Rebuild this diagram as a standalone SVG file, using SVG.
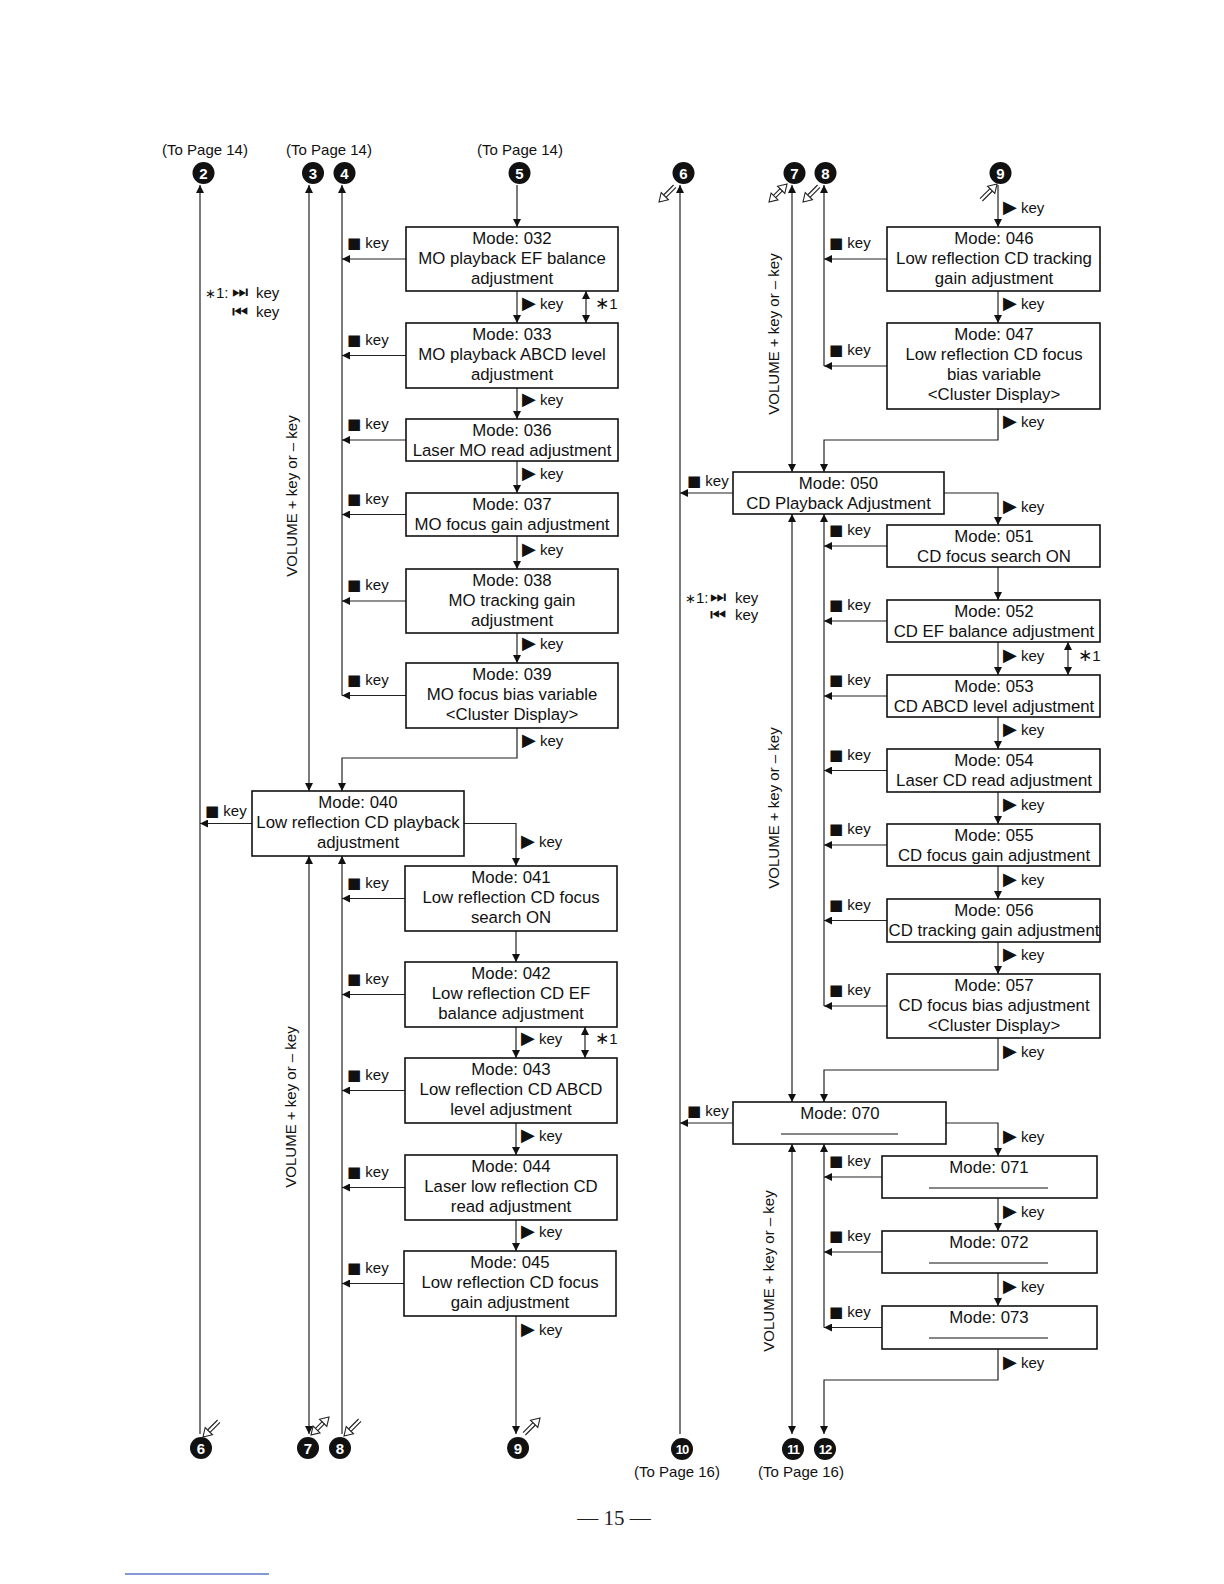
<svg xmlns="http://www.w3.org/2000/svg" width="1224" height="1584" viewBox="0 0 1224 1584">
<defs>
<style>
.bx{fill:#fff;stroke:#111;stroke-width:1.6}
.t{font-family:"Liberation Sans",Arial,sans-serif;font-size:16.8px;fill:#111;text-anchor:middle}
.k{font-family:"Liberation Sans",Arial,sans-serif;font-size:15px;fill:#111}
.sy{font-family:"DejaVu Sans",sans-serif}
.as{font-family:"DejaVu Sans",sans-serif;font-size:13px}
.tr{font-family:"DejaVu Sans",sans-serif;font-size:18px}
.md{font-family:"DejaVu Sans",sans-serif;font-size:18px}
.pg{font-family:"Liberation Sans",Arial,sans-serif;font-size:15px;fill:#111;text-anchor:middle}
.v{font-family:"Liberation Sans",Arial,sans-serif;font-size:15px;fill:#111;text-anchor:middle}
.c{fill:#111}
.cn{font-family:"Liberation Sans",Arial,sans-serif;font-weight:bold;font-size:15px;fill:#fff;text-anchor:middle}
.cn2{font-family:"Liberation Sans",Arial,sans-serif;font-weight:bold;font-size:13px;fill:#fff;text-anchor:middle;letter-spacing:-1px}
.ln{fill:none;stroke:#222;stroke-width:1.2}
.ul{stroke:#111;stroke-width:1.2}
.a{marker-end:url(#ah)}
.s{marker-start:url(#ah)}
.h{fill:#fff;stroke:#222;stroke-width:1.1}
.hs{fill:none;stroke:#222;stroke-width:1.1}
</style>
<marker id="ah" markerUnits="userSpaceOnUse" markerWidth="8" markerHeight="8" refX="8" refY="4" orient="auto-start-reverse">
<path d="M0,0 L8,4 L0,8 z" fill="#111"/>
</marker>
<g id="hdl">
<polygon class="h" points="0,0 9.5,-2.2 2.2,-9.5"/>
<path class="hs" d="M7,-4.6 L17,-14.6 M4.6,-7 L14.6,-17"/>
</g>
<g id="hdd">
<polygon class="h" points="0,0 9,-2.1 2.1,-9"/>
<polygon class="h" points="18,-18 8.5,-15.8 15.8,-8.5"/>
<path class="hs" d="M6.7,-4.4 L13.7,-11.4 M4.4,-6.7 L11.4,-13.7"/>
</g>
</defs>
<rect x="0" y="0" width="1224" height="1584" fill="#fff"/>

<g id="terminals">
<text class="pg" x="205" y="155">(To Page 14)</text>
<text class="pg" x="329" y="155">(To Page 14)</text>
<text class="pg" x="520" y="155">(To Page 14)</text>
<g id="t2top"><circle class="c" cx="203.5" cy="173" r="11"/><text class="cn" x="203.5" y="178.5">2</text></g>
<g id="t3top"><circle class="c" cx="313" cy="173" r="11"/><text class="cn" x="313" y="178.5">3</text></g>
<g id="t4top"><circle class="c" cx="344.5" cy="173" r="11"/><text class="cn" x="344.5" y="178.5">4</text></g>
<g id="t5top"><circle class="c" cx="519.5" cy="173" r="11"/><text class="cn" x="519.5" y="178.5">5</text></g>
<g id="t6top"><circle class="c" cx="683.5" cy="173" r="11"/><text class="cn" x="683.5" y="178.5">6</text></g>
<g id="t7top"><circle class="c" cx="794.5" cy="173" r="11"/><text class="cn" x="794.5" y="178.5">7</text></g>
<g id="t8top"><circle class="c" cx="825.5" cy="173" r="11"/><text class="cn" x="825.5" y="178.5">8</text></g>
<g id="t9top"><circle class="c" cx="1000.5" cy="173" r="11"/><text class="cn" x="1000.5" y="178.5">9</text></g>
<g id="t6bot"><circle class="c" cx="201" cy="1448" r="11"/><text class="cn" x="201" y="1453.5">6</text></g>
<g id="t7bot"><circle class="c" cx="308" cy="1448" r="11"/><text class="cn" x="308" y="1453.5">7</text></g>
<g id="t8bot"><circle class="c" cx="340" cy="1448" r="11"/><text class="cn" x="340" y="1453.5">8</text></g>
<g id="t9bot"><circle class="c" cx="518" cy="1448" r="11"/><text class="cn" x="518" y="1453.5">9</text></g>
<g id="t10"><circle class="c" cx="682" cy="1449" r="11"/><text class="cn2" x="682" y="1454">10</text></g>
<g id="t11"><circle class="c" cx="793" cy="1449" r="11"/><text class="cn2" x="793" y="1454">11</text></g>
<g id="t12"><circle class="c" cx="825" cy="1449" r="11"/><text class="cn2" x="825" y="1454">12</text></g>
<text class="pg" x="677" y="1477">(To Page 16)</text>
<text class="pg" x="801" y="1477">(To Page 16)</text>
<use href="#hdl" transform="translate(659,202)"/>
<use href="#hdd" transform="translate(769,202)"/>
<use href="#hdl" transform="translate(803,202)"/>
<use href="#hdl" transform="translate(997,184) rotate(180)"/>
<use href="#hdl" transform="translate(203,1437)"/>
<use href="#hdd" transform="translate(311,1435)"/>
<use href="#hdl" transform="translate(344,1436)"/>
<use href="#hdl" transform="translate(540,1418) rotate(180)"/>
</g>

<g id="connectors">
<path class="ln s" d="M200,185 V1434"/>
<path class="ln s a" d="M309,185 V791"/>
<path class="ln s a" d="M309,856 V1434"/>
<path class="ln s" d="M342,185 V695.5"/>
<path class="ln s" d="M342,856 V1434"/>
<path class="ln a" d="M517,185 V227"/>
<path class="ln a" d="M406,259 H342"/>
<path class="ln a" d="M406,355.5 H342"/>
<path class="ln a" d="M406,440 H342"/>
<path class="ln a" d="M406,514.5 H342"/>
<path class="ln a" d="M406,601 H342"/>
<path class="ln a" d="M406,695.5 H342"/>
<path class="ln a" d="M405,898.5 H342"/>
<path class="ln a" d="M405,994.5 H342"/>
<path class="ln a" d="M405,1090.5 H342"/>
<path class="ln a" d="M405,1187.5 H342"/>
<path class="ln a" d="M404,1283.5 H342"/>
<path class="ln a" d="M252,823.5 H200"/>
<path class="ln a" d="M517,291 V323"/>
<path class="ln a" d="M517,388 V419"/>
<path class="ln a" d="M517,461 V493"/>
<path class="ln a" d="M517,536 V569"/>
<path class="ln a" d="M517,633 V663"/>
<path class="ln a" d="M517,728 V758 H342 V791"/>
<path class="ln a" d="M464,823.5 H516 V866"/>
<path class="ln a" d="M516,931 V962"/>
<path class="ln a" d="M516,1027 V1058"/>
<path class="ln a" d="M516,1123 V1155"/>
<path class="ln a" d="M516,1220 V1251"/>
<path class="ln a" d="M516,1316 V1434"/>
<path class="ln s a" d="M586,291 V323"/>
<path class="ln s a" d="M585,1027 V1058"/>

<path class="ln s" d="M680,185 V1434"/>
<path class="ln a" d="M733,493 H680"/>
<path class="ln a" d="M733,1123 H680"/>
<path class="ln s a" d="M792,185 V472"/>
<path class="ln s a" d="M792,514 V1102"/>
<path class="ln s a" d="M792,1144 V1434"/>
<path class="ln s" d="M824,185 V366"/>
<path class="ln a" d="M998,409 V440 H824 V472"/>
<path class="ln s" d="M824,514 V1006"/>
<path class="ln a" d="M998,1038 V1070 H824 V1102"/>
<path class="ln s" d="M824,1144 V1327.5"/>
<path class="ln a" d="M998,1349 V1380 H824 V1434"/>
<path class="ln a" d="M998,185 V227"/>
<path class="ln a" d="M998,291 V323"/>
<path class="ln a" d="M944,493 H998 V525"/>
<path class="ln a" d="M998,567 V600"/>
<path class="ln a" d="M998,642 V675"/>
<path class="ln a" d="M998,717 V749"/>
<path class="ln a" d="M998,792 V824"/>
<path class="ln a" d="M998,866 V899"/>
<path class="ln a" d="M998,942 V974"/>
<path class="ln a" d="M946,1123 H998 V1156"/>
<path class="ln a" d="M998,1198 V1231"/>
<path class="ln a" d="M998,1273 V1306"/>
<path class="ln s a" d="M1068,642 V675"/>
<path class="ln a" d="M887,259 H824"/>
<path class="ln a" d="M887,366 H824"/>
<path class="ln a" d="M887,546 H824"/>
<path class="ln a" d="M887,621 H824"/>
<path class="ln a" d="M887,696 H824"/>
<path class="ln a" d="M887,770.5 H824"/>
<path class="ln a" d="M887,845 H824"/>
<path class="ln a" d="M887,920.5 H824"/>
<path class="ln a" d="M887,1006 H824"/>
<path class="ln a" d="M882,1177 H824"/>
<path class="ln a" d="M882,1252 H824"/>
<path class="ln a" d="M882,1327.5 H824"/>

<g class="k">
<text x="347" y="248"><tspan class="sy">■</tspan> key</text>
<text x="347" y="344.5"><tspan class="sy">■</tspan> key</text>
<text x="347" y="429"><tspan class="sy">■</tspan> key</text>
<text x="347" y="503.5"><tspan class="sy">■</tspan> key</text>
<text x="347" y="590"><tspan class="sy">■</tspan> key</text>
<text x="347" y="684.5"><tspan class="sy">■</tspan> key</text>
<text x="347" y="887.5"><tspan class="sy">■</tspan> key</text>
<text x="347" y="983.5"><tspan class="sy">■</tspan> key</text>
<text x="347" y="1079.5"><tspan class="sy">■</tspan> key</text>
<text x="347" y="1176.5"><tspan class="sy">■</tspan> key</text>
<text x="347" y="1272.5"><tspan class="sy">■</tspan> key</text>
<text x="205" y="816"><tspan class="sy">■</tspan> key</text>
<text x="687" y="486"><tspan class="sy">■</tspan> key</text>
<text x="687" y="1116"><tspan class="sy">■</tspan> key</text>
<text x="829" y="248"><tspan class="sy">■</tspan> key</text>
<text x="829" y="355"><tspan class="sy">■</tspan> key</text>
<text x="829" y="535"><tspan class="sy">■</tspan> key</text>
<text x="829" y="610"><tspan class="sy">■</tspan> key</text>
<text x="829" y="685"><tspan class="sy">■</tspan> key</text>
<text x="829" y="759.5"><tspan class="sy">■</tspan> key</text>
<text x="829" y="834"><tspan class="sy">■</tspan> key</text>
<text x="829" y="909.5"><tspan class="sy">■</tspan> key</text>
<text x="829" y="995"><tspan class="sy">■</tspan> key</text>
<text x="829" y="1166"><tspan class="sy">■</tspan> key</text>
<text x="829" y="1241"><tspan class="sy">■</tspan> key</text>
<text x="829" y="1316.5"><tspan class="sy">■</tspan> key</text>
</g>
<g class="k">
<text x="522" y="309"><tspan class="tr">▶</tspan> key</text>
<text x="522" y="405"><tspan class="tr">▶</tspan> key</text>
<text x="522" y="479"><tspan class="tr">▶</tspan> key</text>
<text x="522" y="555"><tspan class="tr">▶</tspan> key</text>
<text x="522" y="649"><tspan class="tr">▶</tspan> key</text>
<text x="522" y="746"><tspan class="tr">▶</tspan> key</text>
<text x="521" y="847"><tspan class="tr">▶</tspan> key</text>
<text x="521" y="1044"><tspan class="tr">▶</tspan> key</text>
<text x="521" y="1141"><tspan class="tr">▶</tspan> key</text>
<text x="521" y="1237"><tspan class="tr">▶</tspan> key</text>
<text x="521" y="1335"><tspan class="tr">▶</tspan> key</text>
<text x="1003" y="213"><tspan class="tr">▶</tspan> key</text>
<text x="1003" y="309"><tspan class="tr">▶</tspan> key</text>
<text x="1003" y="427"><tspan class="tr">▶</tspan> key</text>
<text x="1003" y="512"><tspan class="tr">▶</tspan> key</text>
<text x="1003" y="661"><tspan class="tr">▶</tspan> key</text>
<text x="1003" y="735"><tspan class="tr">▶</tspan> key</text>
<text x="1003" y="810"><tspan class="tr">▶</tspan> key</text>
<text x="1003" y="885"><tspan class="tr">▶</tspan> key</text>
<text x="1003" y="960"><tspan class="tr">▶</tspan> key</text>
<text x="1003" y="1057"><tspan class="tr">▶</tspan> key</text>
<text x="1003" y="1142"><tspan class="tr">▶</tspan> key</text>
<text x="1003" y="1217"><tspan class="tr">▶</tspan> key</text>
<text x="1003" y="1292"><tspan class="tr">▶</tspan> key</text>
<text x="1003" y="1368"><tspan class="tr">▶</tspan> key</text>
<text x="595" y="309"><tspan class="sy" font-size="17">∗</tspan>1</text>
<text x="595" y="1044"><tspan class="sy" font-size="17">∗</tspan>1</text>
<text x="1078" y="661"><tspan class="sy" font-size="17">∗</tspan>1</text>
<text x="205" y="298"><tspan class="as">∗</tspan>1:<tspan class="md" x="232">⏭</tspan><tspan x="256">key</tspan></text>
<text x="232" y="317"><tspan class="md">⏮</tspan><tspan x="256">key</tspan></text>
<text x="685" y="603"><tspan class="as">∗</tspan>1:<tspan class="md" x="710">⏭</tspan><tspan x="735">key</tspan></text>
<text x="710" y="620"><tspan class="md">⏮</tspan><tspan x="735">key</tspan></text>
</g>
<g class="v">
<text transform="translate(297,496) rotate(-90)">VOLUME + key or – key</text>
<text transform="translate(296,1107) rotate(-90)">VOLUME + key or – key</text>
<text transform="translate(779,334) rotate(-90)">VOLUME + key or – key</text>
<text transform="translate(779,808) rotate(-90)">VOLUME + key or – key</text>
<text transform="translate(774,1271) rotate(-90)">VOLUME + key or – key</text>
</g>
</g>

<g id="mode032"><rect class="bx" x="406" y="227" width="212" height="64"/><text class="t" x="512" y="243.5">Mode: 032</text><text class="t" x="512" y="263.7">MO playback EF balance</text><text class="t" x="512" y="283.9">adjustment</text></g>
<g id="mode033"><rect class="bx" x="406" y="323" width="212" height="65"/><text class="t" x="512" y="339.5">Mode: 033</text><text class="t" x="512" y="359.7">MO playback ABCD level</text><text class="t" x="512" y="379.9">adjustment</text></g>
<g id="mode036"><rect class="bx" x="406" y="419" width="212" height="42"/><text class="t" x="512" y="435.5">Mode: 036</text><text class="t" x="512" y="455.7">Laser MO read adjustment</text></g>
<g id="mode037"><rect class="bx" x="406" y="493" width="212" height="43"/><text class="t" x="512" y="509.5">Mode: 037</text><text class="t" x="512" y="529.7">MO focus gain adjustment</text></g>
<g id="mode038"><rect class="bx" x="406" y="569" width="212" height="64"/><text class="t" x="512" y="585.5">Mode: 038</text><text class="t" x="512" y="605.7">MO tracking gain</text><text class="t" x="512" y="625.9">adjustment</text></g>
<g id="mode039"><rect class="bx" x="406" y="663" width="212" height="65"/><text class="t" x="512" y="679.5">Mode: 039</text><text class="t" x="512" y="699.7">MO focus bias variable</text><text class="t" x="512" y="719.9">&lt;Cluster Display&gt;</text></g>
<g id="mode040"><rect class="bx" x="252" y="791" width="212" height="65"/><text class="t" x="358" y="807.5">Mode: 040</text><text class="t" x="358" y="827.7">Low reflection CD playback</text><text class="t" x="358" y="847.9">adjustment</text></g>
<g id="mode041"><rect class="bx" x="405" y="866" width="212" height="65"/><text class="t" x="511" y="882.5">Mode: 041</text><text class="t" x="511" y="902.7">Low reflection CD focus</text><text class="t" x="511" y="922.9">search ON</text></g>
<g id="mode042"><rect class="bx" x="405" y="962" width="212" height="65"/><text class="t" x="511" y="978.5">Mode: 042</text><text class="t" x="511" y="998.7">Low reflection CD EF</text><text class="t" x="511" y="1018.9">balance adjustment</text></g>
<g id="mode043"><rect class="bx" x="405" y="1058" width="212" height="65"/><text class="t" x="511" y="1074.5">Mode: 043</text><text class="t" x="511" y="1094.7">Low reflection CD ABCD</text><text class="t" x="511" y="1114.9">level adjustment</text></g>
<g id="mode044"><rect class="bx" x="405" y="1155" width="212" height="65"/><text class="t" x="511" y="1171.5">Mode: 044</text><text class="t" x="511" y="1191.7">Laser low reflection CD</text><text class="t" x="511" y="1211.9">read adjustment</text></g>
<g id="mode045"><rect class="bx" x="404" y="1251" width="212" height="65"/><text class="t" x="510" y="1267.5">Mode: 045</text><text class="t" x="510" y="1287.7">Low reflection CD focus</text><text class="t" x="510" y="1307.9">gain adjustment</text></g>

<g id="mode046"><rect class="bx" x="887" y="227" width="213" height="64"/><text class="t" x="994" y="243.5">Mode: 046</text><text class="t" x="994" y="263.7">Low reflection CD tracking</text><text class="t" x="994" y="283.9">gain adjustment</text></g>
<g id="mode047"><rect class="bx" x="887" y="323" width="213" height="86"/><text class="t" x="994" y="339.5">Mode: 047</text><text class="t" x="994" y="359.7">Low reflection CD focus</text><text class="t" x="994" y="379.9">bias variable</text><text class="t" x="994" y="400.1">&lt;Cluster Display&gt;</text></g>
<g id="mode050"><rect class="bx" x="733" y="472" width="211" height="42"/><text class="t" x="838.5" y="488.5">Mode: 050</text><text class="t" x="838.5" y="508.5">CD Playback Adjustment</text></g>
<g id="mode051"><rect class="bx" x="887" y="525" width="213" height="42"/><text class="t" x="994" y="541.5">Mode: 051</text><text class="t" x="994" y="561.7">CD focus search ON</text></g>
<g id="mode052"><rect class="bx" x="887" y="600" width="213" height="42"/><text class="t" x="994" y="616.5">Mode: 052</text><text class="t" x="994" y="636.7">CD EF balance adjustment</text></g>
<g id="mode053"><rect class="bx" x="887" y="675" width="213" height="42"/><text class="t" x="994" y="691.5">Mode: 053</text><text class="t" x="994" y="711.7">CD ABCD level adjustment</text></g>
<g id="mode054"><rect class="bx" x="887" y="749" width="213" height="43"/><text class="t" x="994" y="765.5">Mode: 054</text><text class="t" x="994" y="785.7">Laser CD read adjustment</text></g>
<g id="mode055"><rect class="bx" x="887" y="824" width="213" height="42"/><text class="t" x="994" y="840.5">Mode: 055</text><text class="t" x="994" y="860.7">CD focus gain adjustment</text></g>
<g id="mode056"><rect class="bx" x="887" y="899" width="213" height="43"/><text class="t" x="994" y="915.5">Mode: 056</text><text class="t" x="994" y="935.7">CD tracking gain adjustment</text></g>
<g id="mode057"><rect class="bx" x="887" y="974" width="213" height="64"/><text class="t" x="994" y="990.5">Mode: 057</text><text class="t" x="994" y="1010.7">CD focus bias adjustment</text><text class="t" x="994" y="1030.9">&lt;Cluster Display&gt;</text></g>
<g id="mode070"><rect class="bx" x="733" y="1102" width="213" height="42"/><text class="t" x="840" y="1118.5">Mode: 070</text><line class="ul" x1="781" y1="1134" x2="898" y2="1134"/></g>
<g id="mode071"><rect class="bx" x="882" y="1156" width="215" height="42"/><text class="t" x="989" y="1172.5">Mode: 071</text><line class="ul" x1="929" y1="1188" x2="1048" y2="1188"/></g>
<g id="mode072"><rect class="bx" x="882" y="1231" width="215" height="42"/><text class="t" x="989" y="1247.5">Mode: 072</text><line class="ul" x1="929" y1="1263" x2="1048" y2="1263"/></g>
<g id="mode073"><rect class="bx" x="882" y="1306" width="215" height="43"/><text class="t" x="989" y="1322.5">Mode: 073</text><line class="ul" x1="929" y1="1338" x2="1048" y2="1338"/></g>

<g id="page">
<text x="614" y="1525" font-family="Liberation Serif, serif" font-size="21" fill="#222" text-anchor="middle">— 15 —</text>
<line x1="125" y1="1574" x2="269" y2="1574" stroke="#5a78c8" stroke-width="1.5"/>
</g>
</svg>
